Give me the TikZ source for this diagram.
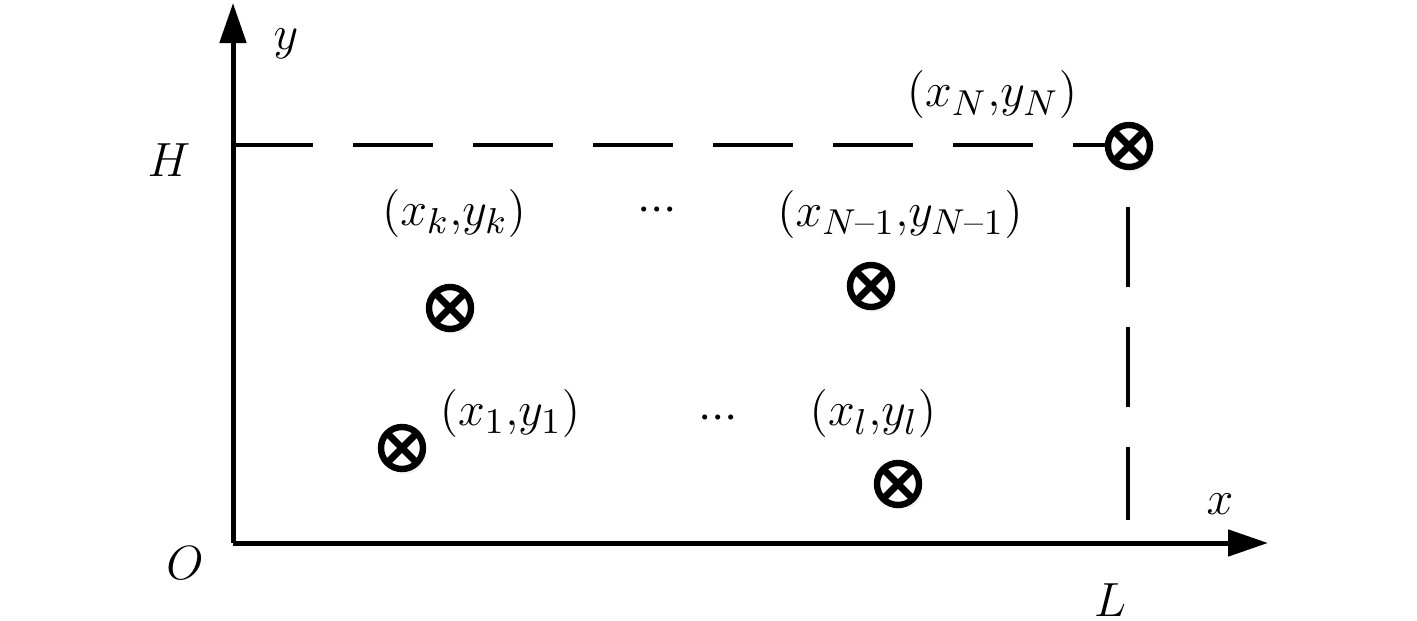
\documentclass[tikz,border=0pt]{standalone}
\usepackage{amsmath}
\usetikzlibrary{arrows.meta,shadows}
\tikzset{
  axis/.style={line width=1.25pt,-{Triangle[length=10pt,width=6.5pt]}},
  guide/.style={line width=1pt,dash pattern=on 20pt off 10pt},
  sensor/.style={circle,draw,line width=1.6pt,minimum size=10.5pt,inner sep=0pt,fill=white,
    drop shadow={opacity=0.12,shadow xshift=0.8pt,shadow yshift=-1.2pt},
    path picture={\draw[line width=1.7pt]
      (path picture bounding box.north west) -- (path picture bounding box.south east)
      (path picture bounding box.south west) -- (path picture bounding box.north east);}},
  lbl/.style={font=\fontsize{13.2}{15.8}\selectfont,inner sep=0pt}
}
\newcommand{\dotrow}{${\cdot}{\cdot}{\cdot}$}
\begin{document}
\begin{tikzpicture}[x=0.25pt,y=-0.25pt]
    \useasboundingbox (0,0) rectangle (1417,621);
    % axes
    \coordinate (O) at (233,543);
    \coordinate (ytip) at (233,3);
    \coordinate (xtip) at (1268,543);
    \coordinate (Hy) at (233,145);
    \coordinate (Lx) at (1128,520);
    \draw[axis] (O) -- (ytip);
    \draw[axis] (O) -- (xtip);
    \node[lbl] (ylab) at (286,44) {$y$};
    \node[lbl] (xlab) at (1220,504) {$x$};
    \node[lbl] (olab) at (185,563) {$O$};
    \node[lbl] (hlab) at (169,160) {$H$};
    \node[lbl] (llab) at (1110,600) {$L$};
    % field boundary
    \draw[guide] (Hy) -- (1129,145);
    \draw[guide,dash phase=20pt] (1128,167) -- (Lx);
    % nodes
    \node[sensor] (pN) at (1129,146) {};
    \node[sensor] (pk) at (450,308) {};
    \node[sensor] (pm) at (871,286) {};
    \node[sensor] (p1) at (402,448) {};
    \node[sensor] (pl) at (898,484) {};
    \node[lbl] (tN) at (992,95) {$(x_N{,}y_N)$};
    \node[lbl] (tk) at (454,213) {$(x_k{,}y_k)$};
    \node[lbl] (dk) at (657,211) {\dotrow};
    \node[lbl] (tm) at (900,214) {$(x_{N\text{--}1}{,}y_{N\text{--}1})$};
    \node[lbl] (t1) at (510,414) {$(x_1{,}y_1)$};
    \node[lbl] (d1) at (718,419) {\dotrow};
    \node[lbl] (tl) at (873,414) {$(x_l{,}y_l)$};
\end{tikzpicture}
\end{document}
